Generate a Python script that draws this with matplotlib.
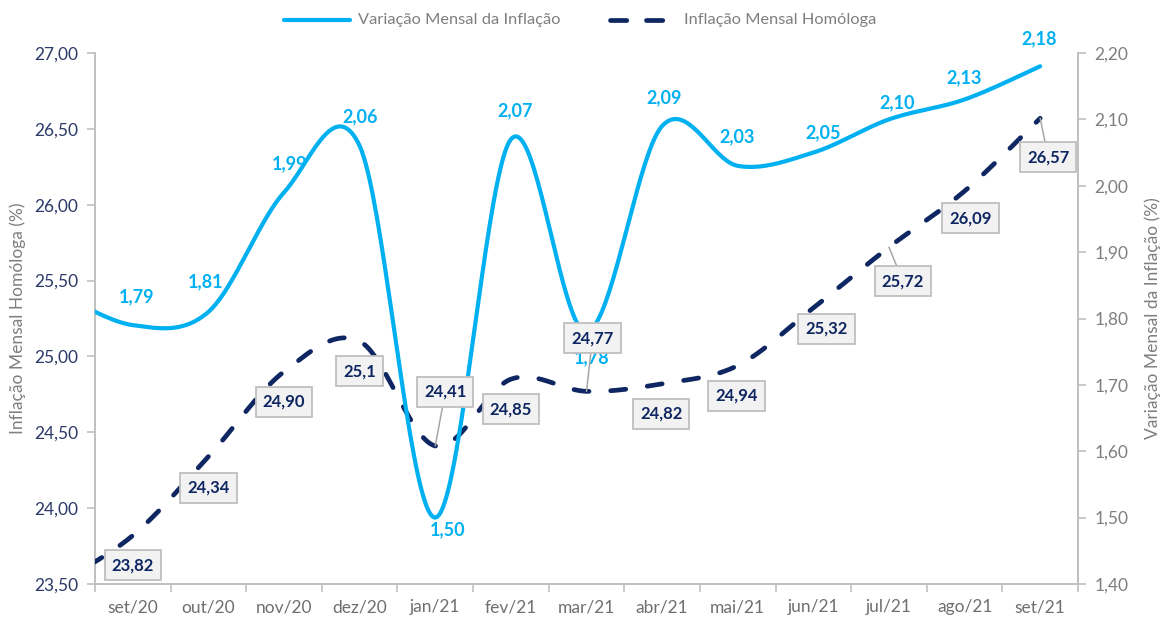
import numpy as np
import matplotlib
matplotlib.use("Agg")
import matplotlib.pyplot as plt
from matplotlib.lines import Line2D

# ---------------- data ----------------
months = ["set/20", "out/20", "nov/20", "dez/20", "jan/21", "fev/21", "mar/21",
          "abr/21", "mai/21", "jun/21", "jul/21", "ago/21", "set/21"]
variacao_mensal = [1.79, 1.81, 1.99, 2.06, 1.50, 2.07, 1.78, 2.09, 2.03, 2.05, 2.10, 2.13, 2.18]
inflacao_homologa = [23.82, 24.34, 24.90, 25.1, 24.41, 24.85, 24.77, 24.82, 24.94, 25.32, 25.72, 26.09, 26.57]
inflacao_labels = ["23,82", "24,34", "24,90", "25,1", "24,41", "24,85", "24,77",
                   "24,82", "24,94", "25,32", "25,72", "26,09", "26,57"]
# previous month (ago/20), only visible as the line entering from the left edge
variacao_prev = 1.84
homologa_prev = 23.50

left_ticks = [23.50, 24.00, 24.50, 25.00, 25.50, 26.00, 26.50, 27.00]
right_ticks = [1.40, 1.50, 1.60, 1.70, 1.80, 1.90, 2.00, 2.10, 2.20]
legend_labels = ["Variação Mensal da Inflação", "Inflação Mensal Homóloga"]

# ---------------- style ----------------
CYAN = "#00B0F0"
NAVY = "#0E2661"
GREY_TXT = "#7F7F7F"
SPINE = "#C0C0C0"
FONT = ["Lato", "DejaVu Sans"]
plt.rcParams["font.family"] = FONT

# label offsets (pixels, matplotlib y up)
cyan_off = [(4, 28), (-3, 30), (5, 29), (0, 29), (12, -12), (4, 29), (5, -26),
            (2, 28), (-1, 29), (10, 20), (8, 17), (0, 22), (-1, 28)]
navy_off = [(0, -30), (0, -31), (0, -30), (0, -30), (10, 54), (0, -30), (6, 53),
            (-1, -30), (-1, -30), (13, -21), (14, -34), (6, -27), (8, -39)]
leader = [False, False, False, False, True, False, True, False, False, False, True, False, True]


def excel_smooth(xs, ys, n=40):
    pts = np.column_stack([xs, ys]).astype(float)
    out = []
    for i in range(len(pts) - 1):
        p0 = pts[i - 1] if i > 0 else pts[i]
        p1 = pts[i]
        p2 = pts[i + 1]
        p3 = pts[i + 2] if i + 2 < len(pts) else pts[i + 1]
        c1 = p1 + (p2 - p0) / 6.0
        c2 = p2 - (p3 - p1) / 6.0
        t = np.linspace(0, 1, n)[:, None]
        seg = (1 - t) ** 3 * p1 + 3 * (1 - t) ** 2 * t * c1 + 3 * (1 - t) * t ** 2 * c2 + t ** 3 * p2
        out.append(seg if i == 0 else seg[1:])
    s = np.vstack(out)
    return s[:, 0], s[:, 1]


W, H = 1170, 620
fig = plt.figure(figsize=(W / 100, H / 100), dpi=100)
ax = fig.add_axes([95 / W, 1 - 584 / H, (1078 - 95) / W, (584 - 53) / H])
ax2 = ax.twinx()

x = np.arange(len(months))
xp = np.concatenate([[-1], x])

hx, hy = excel_smooth(xp, [homologa_prev] + inflacao_homologa)
vx, vy = excel_smooth(xp, [variacao_prev] + variacao_mensal)

ax.plot(hx, hy, color=NAVY, lw=3.4, dashes=(3.2, 4.6),
        dash_capstyle="round", solid_capstyle="round", zorder=3)
ax2.plot(vx, vy, color=CYAN, lw=3.0, solid_capstyle="round", zorder=3)

ax.set_xlim(-0.5, len(months) - 0.5)
ax.set_ylim(23.5, 27.0)
ax2.set_ylim(1.40, 2.20)

ax.set_yticks(left_ticks)
ax.set_yticklabels([f"{v:.2f}".replace(".", ",") for v in left_ticks])
ax2.set_yticks(right_ticks)
ax2.set_yticklabels([f"{v:.2f}".replace(".", ",") for v in right_ticks])

ax.set_xticks(np.arange(-0.5, len(months), 1.0))
ax.set_xticklabels([])
ax.set_xticks(x, minor=True)
ax.set_xticklabels(months, minor=True)
ax.tick_params(axis="x", which="minor", length=0, pad=11, labelsize=12.5, labelcolor="#6F6F6F")
ax.tick_params(axis="x", which="major", length=6, width=1.2, color=SPINE, direction="out")
ax.tick_params(axis="y", length=6, width=1.2, color=SPINE, labelsize=12.5, labelcolor="#2B3A67", pad=6)
ax2.tick_params(axis="y", length=6, width=1.2, color=SPINE, labelsize=12.5, labelcolor=GREY_TXT, pad=6)

for a in (ax, ax2):
    a.spines["top"].set_visible(False)
    for s in ("left", "right", "bottom"):
        a.spines[s].set_color(SPINE)
        a.spines[s].set_linewidth(1.4)
ax.spines["right"].set_visible(False)
ax2.spines["left"].set_visible(False)
ax2.spines["bottom"].set_visible(False)

# cyan labels
for i, v in enumerate(variacao_mensal):
    ax2.annotate(f"{v:.2f}".replace(".", ","), xy=(x[i], v), xytext=cyan_off[i],
                 textcoords="offset pixels", ha="center", va="center",
                 color=CYAN, fontsize=13, fontweight="bold", zorder=5)

# navy boxed labels (drawn on ax2 so they sit above both lines)
for i, v in enumerate(inflacao_homologa):
    kw = {}
    if leader[i]:
        kw["arrowprops"] = dict(arrowstyle="-", color="#A6A6A6", lw=1.1,
                                shrinkA=0, shrinkB=0)
    ax2.annotate(inflacao_labels[i], xy=(x[i], v), xycoords=ax.transData,
                 xytext=navy_off[i], textcoords="offset pixels",
                 ha="center", va="center", color=NAVY, fontsize=12, fontweight="bold",
                 bbox=dict(boxstyle="square,pad=0.42", fc="#F2F2F2", ec="#BFBFBF", lw=1.3),
                 zorder=6, **kw)

# axis titles
fig.text(18 / W, 1 - 318 / H, "Inflação Mensal Homóloga (%)", rotation=90,
         ha="center", va="center", color=GREY_TXT, fontsize=12.5)
fig.text(1153 / W, 1 - 318 / H, "Variação Mensal da Inflação (%)", rotation=90,
         ha="center", va="center", color=GREY_TXT, fontsize=12.5)

# legend (drawn manually to match key lengths)
ly = 1 - 20 / H
fig.add_artist(Line2D([284 / W, 350 / W], [ly, ly], transform=fig.transFigure,
                      color=CYAN, lw=3.0, solid_capstyle="round"))
fig.text(358 / W, ly, legend_labels[0], ha="left", va="center", color=GREY_TXT, fontsize=11.8)
fig.add_artist(Line2D([610.4 / W, 662.6 / W], [ly, ly], transform=fig.transFigure,
                      color=NAVY, lw=3.4, dashes=(3.45, 4.17), dash_capstyle="round"))
fig.text(684 / W, ly, legend_labels[1], ha="left", va="center", color=GREY_TXT, fontsize=11.8)

fig.savefig("out.png", dpi=100)
